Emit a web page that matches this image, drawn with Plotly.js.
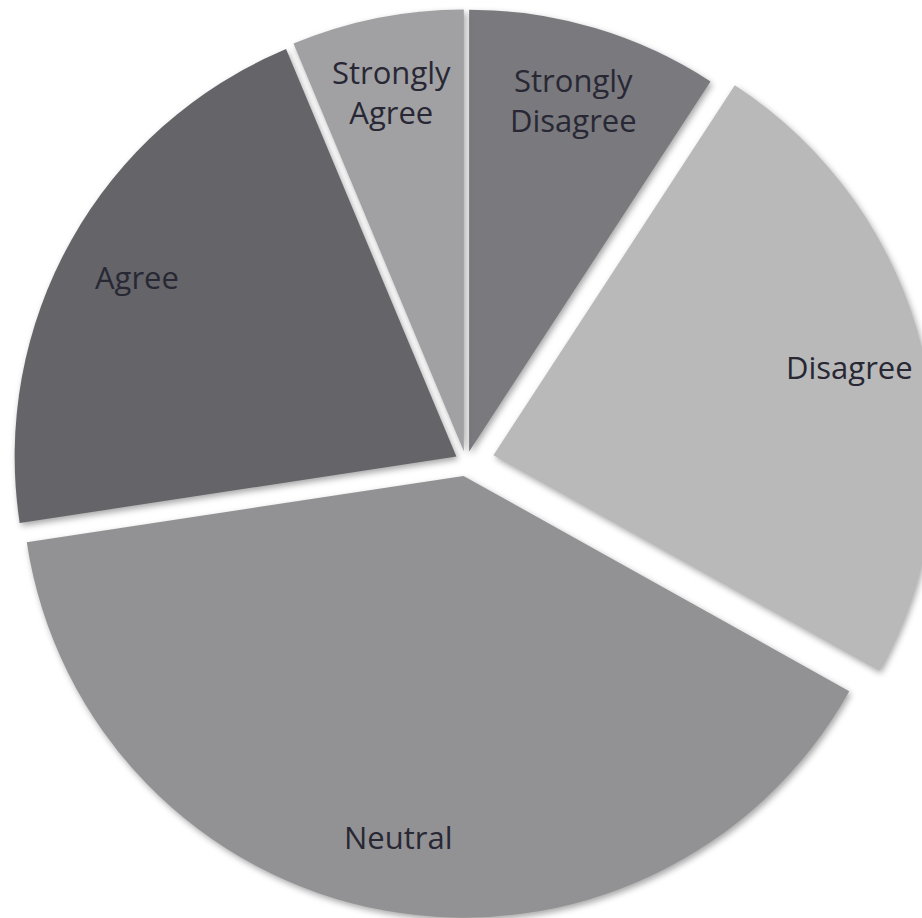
<!DOCTYPE html>
<html>
<head>
<meta charset="utf-8">
<script src="https://cdn.plot.ly/plotly-3.0.1.min.js"></script>
<style>
  html, body { margin: 0; padding: 0; width: 922px; height: 918px; overflow: hidden; background: #ffffff; }
  #chart { position: absolute; left: -4px; top: -8px; width: 940px; height: 940px; }
  #chart .slice path.surface { filter: drop-shadow(2px 3px 3px rgba(0,0,0,0.35)); }
</style>
</head>
<body>
<div id="chart"></div>
<script>
// ---- data ----
const categories = ["Strongly Disagree", "Disagree", "Neutral", "Agree", "Strongly Agree"];
const values = [9.2, 23.9, 39.5, 21.1, 6.3];
const labelTexts = ["Strongly<br>Disagree", "Disagree", "Neutral", "Agree", "Strongly<br>Agree"];

// ---- style ----
const sliceColors = ["#7a797e", "#b9b9ba", "#929294", "#646469", "#a1a1a4"];
const pulls = [0.025, 0.064, 0.032, 0.025, 0.025];
const W = 940, H = 940;
const labelRadius = 0.83;
const fontFamily = "Open Sans, Liberation Sans, Arial, sans-serif";
const textColor = "#282834";

const trace = {
  type: "pie",
  labels: categories,
  values: values,
  sort: false,
  direction: "clockwise",
  rotation: 0,
  pull: pulls,
  marker: { colors: sliceColors, line: { width: 0 } },
  textinfo: "none",
  hoverinfo: "skip",
  showlegend: false,
  domain: { x: [0, 1], y: [0, 1] }
};

// label positions derived from the data (slice bisectors)
const total = values.reduce((a, b) => a + b, 0);
const maxPull = Math.max(...pulls);
const R = Math.min(W, H) / 2 / (1 + maxPull);
const cx = W / 2, cy = H / 2;
let cum = 0;
const annotations = values.map((v, i) => {
  const a0 = cum / total * 2 * Math.PI;
  cum += v;
  const a1 = cum / total * 2 * Math.PI;
  const mid = (a0 + a1) / 2;
  const dist = pulls[i] * R + labelRadius * R;
  const px = cx + dist * Math.sin(mid);
  const py = cy - dist * Math.cos(mid);
  return {
    text: labelTexts[i],
    xref: "paper", yref: "paper",
    x: px / W, y: 1 - py / H,
    xanchor: "center", yanchor: "middle",
    showarrow: false,
    align: "center",
    font: { family: fontFamily, size: 31, color: textColor }
  };
});

const layout = {
  width: W,
  height: H,
  margin: { l: 0, r: 0, t: 0, b: 0, pad: 0 },
  paper_bgcolor: "rgba(0,0,0,0)",
  plot_bgcolor: "rgba(0,0,0,0)",
  showlegend: false,
  annotations: annotations
};

Plotly.newPlot("chart", [trace], layout, { staticPlot: true, displayModeBar: false });
</script>
</body>
</html>
